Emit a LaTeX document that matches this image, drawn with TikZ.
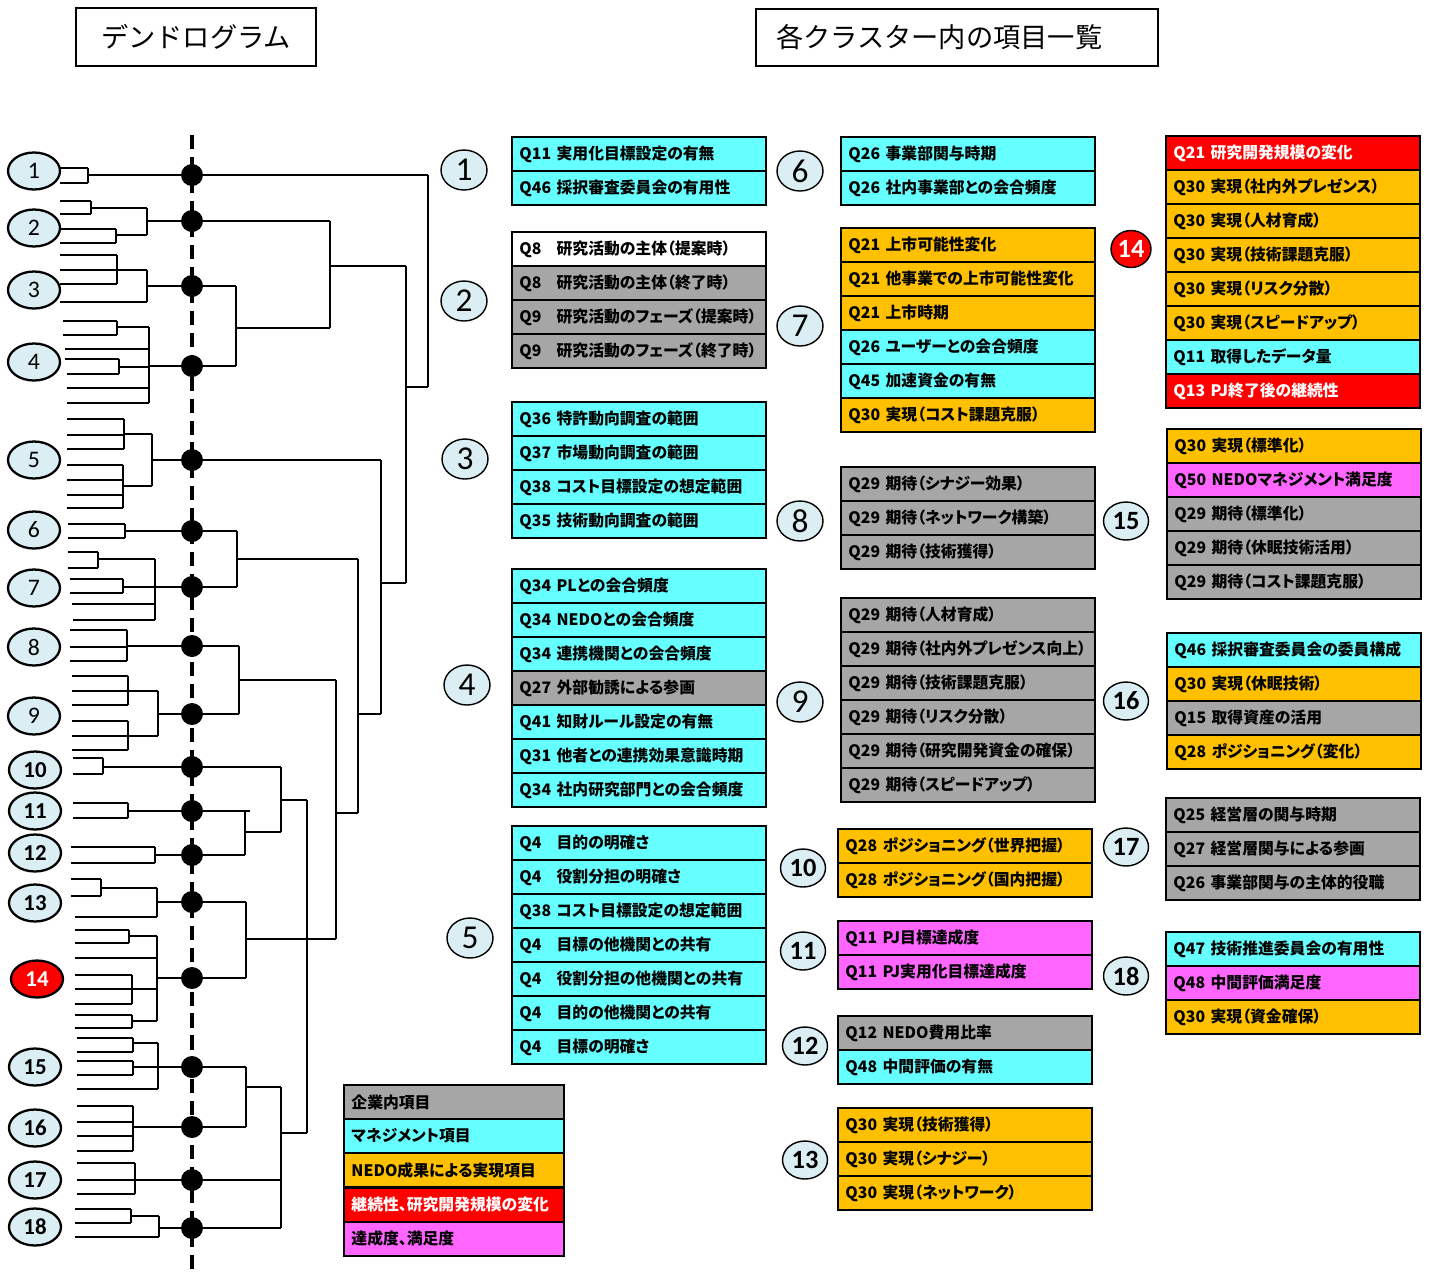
\documentclass[tikz,border=0pt]{standalone}
\usepackage{fontspec}
\setmainfont{Noto Sans CJK JP}[RawFeature=+palt]
\newfontfamily\titlefont{Noto Sans CJK JP}
\newfontfamily\numfont{Carlito}
\usetikzlibrary{positioning, shapes.geometric}
\definecolor{itemcyan}{RGB}{102,255,255}
\definecolor{itemgray}{RGB}{166,166,166}
\definecolor{itemorange}{RGB}{255,192,0}
\definecolor{itemred}{RGB}{255,0,0}
\definecolor{itemmagenta}{RGB}{255,102,255}
\definecolor{tagblue}{RGB}{219,238,244}

\tikzset{
  qrow/.style={draw, line width=1.1pt, anchor=north west, text width=4.78cm,
    inner xsep=0.15cm, inner ysep=0pt, minimum height=0.68cm, align=left,
    font=\bfseries\fontsize{9}{10}\selectfont},
  cy/.style={fill=itemcyan}, gy/.style={fill=itemgray}, og/.style={fill=itemorange},
  rd/.style={fill=itemred, text=white}, mg/.style={fill=itemmagenta}, wt/.style={fill=white},
  dendro/.style={line width=1pt},
  leaftag/.style={ellipse, draw, line width=1.3pt, fill=tagblue, inner sep=0pt,
    minimum width=1.04cm, minimum height=0.74cm, font=\numfont\fontsize{13.5}{13.5}\selectfont},
  grouptag/.style={ellipse, draw, line width=0.8pt, fill=tagblue, inner sep=0pt,
    minimum width=0.92cm, minimum height=0.8cm, font=\numfont\fontsize{19}{19}\selectfont},
  dot/.style={circle, fill=black, inner sep=0pt, minimum size=0.44cm},
  titlebox/.style={draw, line width=1.1pt, font=\titlefont\fontsize{15.5}{16}\selectfont},
}

% one column block of question rows
\newcommand\qgroup[4]{%
  \foreach \qc/\qn/\qt [count=\i] in {#4}
    \node[qrow, \qc] (#1-\i) at (#2,{#3+(\i-1)*34}) {\makebox[2.35em][l]{\qn}\qt};
}

\begin{document}
\begin{tikzpicture}[x=0.02cm, y=-0.02cm]
  \useasboundingbox (0,0) rectangle (1430,1279);

  % titles
  \node[titlebox, minimum width=4.8cm, minimum height=1.16cm] (title1) at (196,37) {デンドログラム};
  \node[titlebox, minimum height=1.14cm, text width=7.24cm, inner xsep=0.4cm, align=left]
    (title2) at (957,37.5) {各クラスター内の項目一覧};

  % cut line
  \draw[line width=2.8pt, dash pattern=on 8pt off 4.5pt] (192,135) -- (192,1275);

  % dendrogram: horizontal pieces
  \foreach \a/\y/\b in {60/168/88, 60/183/88, 88/175/428,
    60/201/91, 60/214/91, 60/229/116, 60/243/116, 91/208/147, 116/235/147, 147/221/330,
    60/255/117, 60/270/147, 60/284/117, 60/302/147, 147/286/236,
    63/321/117, 63/335/117, 65/349/149, 65/359/119, 67/374/119, 67/388/149, 67/403/149,
    117/327/149, 119/367/149, 149/366/236, 236/328/330, 330/266/406,
    67/419/124, 67/435/124, 67/449/124, 67/465/123, 67/480/123, 67/495/123, 67/508/123,
    124/434/152, 123/486/152, 152/460/381,
    68/524/125, 68/538/125, 125/531/237,
    68/552/98, 68/568/98, 70/579/123, 70/593/123, 72/604/155, 73/620/155,
    98/559/155, 123/587/237, 237/559/358,
    70/630/127, 70/647/127, 70/661/127, 127/646/239,
    72/676/128, 72/691/128, 72/705/128, 72/721/128, 72/736/128, 72/750/128,
    128/691/158, 128/736/158, 158/714/239, 239/680/336,
    73/758/103, 73/774/103, 103/767/281,
    73/803/128, 73/818/128, 128/811/250,
    71/847/155, 71/863/155, 155/855/245, 245/832/281, 281/800/307,
    71/879/101, 71/896/101, 75/917/157, 101/888/157, 157/902/246,
    75/930/129, 75/943/129, 75/958/157, 75/975/132, 75/989/132, 75/1004/132,
    75/1015/132, 75/1028/132, 129/936/157, 132/989/157, 132/1021/157, 157/978/246,
    246/939/336, 336/813/358, 358/714/381, 381/583/406, 406/387/428,
    77/1038/133, 77/1052/133, 77/1061/133, 77/1075/133, 77/1089/158,
    133/1043/158, 133/1067/246,
    77/1106/133, 77/1122/133, 77/1136/133, 77/1151/133, 133/1127/246, 246/1087/281,
    77/1163/135, 77/1180/281, 77/1194/135,
    75/1209/131, 75/1223/131, 75/1237/159, 131/1216/159, 159/1228/281, 281/1133/307}
    \draw[dendro] (\a,\y) -- (\b,\y);

  % dendrogram: vertical pieces
  \foreach \x/\a/\b in {88/168/183, 91/201/214, 116/229/243, 147/208/235,
    117/255/284, 147/270/302, 117/321/335, 119/359/374, 149/327/403,
    236/286/366, 330/221/328, 406/266/583, 428/175/387,
    124/419/449, 123/465/508, 152/434/486,
    125/524/538, 98/552/568, 123/579/593, 155/559/620, 237/531/587,
    127/630/661, 128/676/705, 128/721/750, 158/691/736, 239/646/714,
    103/758/774, 128/803/818, 155/847/863, 245/811/855, 281/767/832, 307/800/1133,
    101/879/896, 157/888/917, 129/930/943, 132/975/1004, 132/1015/1028, 157/936/1021,
    246/902/978, 336/680/939, 358/559/813, 381/460/714,
    133/1038/1052, 133/1061/1075, 158/1043/1089, 133/1106/1151, 246/1067/1127,
    135/1163/1194, 131/1209/1223, 159/1216/1237, 281/1087/1228}
    \draw[dendro] (\x,\a) -- (\x,\b);

  % cluster points on the cut
  \foreach \y [count=\i] in {175,221,286,366,460,531,587,646,714,767,811,855,902,978,1067,1127,1180,1228}
    \node[dot] (dot\i) at (192,\y) {};

  % leaf labels
  \foreach \y/\n in {171/1,228/2,290/3,362/4,460/5,530/6,588/7,647/8,716/9}
    \node[leaftag] (leaf\n) at (34,\y) {\n};
  \foreach \y/\n in {770/10,811/11,853/12,903/13,1067/15,1128/16,1180/17,1227/18}
    \node[leaftag, font=\numfont\bfseries\fontsize{13}{13}\selectfont] (leaf\n) at (35,\y) {\n};
  \node[leaftag, fill=itemred, text=white, font=\numfont\bfseries\fontsize{13}{13}\selectfont] (leaf14) at (37,979) {14};

  % item lists
  \qgroup{g1}{511}{136}{cy/Q11/実用化目標設定の有無,
    cy/Q46/採択審査委員会の有用性}
  \qgroup{g2}{511}{231}{wt/Q8/研究活動の主体（提案時）,
    gy/Q8/研究活動の主体（終了時）,
    gy/Q9/研究活動のフェーズ（提案時）,
    gy/Q9/研究活動のフェーズ（終了時）}
  \qgroup{g3}{511}{401}{cy/Q36/特許動向調査の範囲,
    cy/Q37/市場動向調査の範囲,
    cy/Q38/コスト目標設定の想定範囲,
    cy/Q35/技術動向調査の範囲}
  \qgroup{g4}{511}{568}{cy/Q34/PLとの会合頻度,
    cy/Q34/NEDOとの会合頻度,
    cy/Q34/連携機関との会合頻度,
    gy/Q27/外部勧誘による参画,
    cy/Q41/知財ルール設定の有無,
    cy/Q31/他者との連携効果意識時期,
    cy/Q34/社内研究部門との会合頻度}
  \qgroup{g5}{511}{825}{cy/Q4/目的の明確さ,
    cy/Q4/役割分担の明確さ,
    cy/Q38/コスト目標設定の想定範囲,
    cy/Q4/目標の他機関との共有,
    cy/Q4/役割分担の他機関との共有,
    cy/Q4/目的の他機関との共有,
    cy/Q4/目標の明確さ}
  \qgroup{g6}{840}{136}{cy/Q26/事業部関与時期,
    cy/Q26/社内事業部との会合頻度}
  \qgroup{g7}{840}{227}{og/Q21/上市可能性変化,
    og/Q21/他事業での上市可能性変化,
    og/Q21/上市時期,
    cy/Q26/ユーザーとの会合頻度,
    cy/Q45/加速資金の有無,
    og/Q30/実現（コスト課題克服）}
  \qgroup{g8}{840}{466}{gy/Q29/期待（シナジー効果）,
    gy/Q29/期待（ネットワーク構築）,
    gy/Q29/期待（技術獲得）}
  \qgroup{g9}{840}{597}{gy/Q29/期待（人材育成）,
    gy/Q29/期待（社内外プレゼンス向上）,
    gy/Q29/期待（技術課題克服）,
    gy/Q29/期待（リスク分散）,
    gy/Q29/期待（研究開発資金の確保）,
    gy/Q29/期待（スピードアップ）}
  \qgroup{g10}{837}{828}{og/Q28/ポジショニング（世界把握）,
    og/Q28/ポジショニング（国内把握）}
  \qgroup{g11}{837}{920}{mg/Q11/PJ目標達成度,
    mg/Q11/PJ実用化目標達成度}
  \qgroup{g12}{837}{1015}{gy/Q12/NEDO費用比率,
    cy/Q48/中間評価の有無}
  \qgroup{g13}{837}{1107}{og/Q30/実現（技術獲得）,
    og/Q30/実現（シナジー）,
    og/Q30/実現（ネットワーク）}
  \qgroup{g14}{1165}{135}{rd/Q21/研究開発規模の変化,
    og/Q30/実現（社内外プレゼンス）,
    og/Q30/実現（人材育成）,
    og/Q30/実現（技術課題克服）,
    og/Q30/実現（リスク分散）,
    og/Q30/実現（スピードアップ）,
    cy/Q11/取得したデータ量,
    rd/Q13/PJ終了後の継続性}
  \qgroup{g15}{1166}{428}{og/Q30/実現（標準化）,
    mg/Q50/NEDOマネジメント満足度,
    gy/Q29/期待（標準化）,
    gy/Q29/期待（休眠技術活用）,
    gy/Q29/期待（コスト課題克服）}
  \qgroup{g16}{1166}{632}{cy/Q46/採択審査委員会の委員構成,
    og/Q30/実現（休眠技術）,
    gy/Q15/取得資産の活用,
    og/Q28/ポジショニング（変化）}
  \qgroup{g17}{1165}{797}{gy/Q25/経営層の関与時期,
    gy/Q27/経営層関与による参画,
    gy/Q26/事業部関与の主体的役職}
  \qgroup{g18}{1165}{931}{cy/Q47/技術推進委員会の有用性,
    mg/Q48/中間評価満足度,
    og/Q30/実現（資金確保）}

  % cluster numbers beside the lists
  \foreach \x/\y/\n in {464/170/1, 464/301/2, 465/459/3, 467/685/4, 470/938/5,
    800/171/6, 800/326/7, 800/521/8, 800/702/9}
    \node[grouptag] (tag\n) at (\x,\y) {\n};
  \foreach \x/\y/\n in {803/868/10, 803/951/11, 805/1046/12, 805/1160/13,
    1126/521/15, 1126/701/16, 1126/847/17, 1126/976/18}
    \node[grouptag, minimum width=0.9cm, minimum height=0.76cm,
      font=\numfont\bfseries\fontsize{15}{15}\selectfont] (tag\n) at (\x,\y) {\n};
  \node[grouptag, fill=itemred, text=white, minimum width=0.8cm, minimum height=0.74cm,
    font=\numfont\bfseries\fontsize{15}{15}\selectfont] (tag14) at (1131,249) {14};

  % colour key
  \foreach \kc/\kt [count=\i] in {gy/企業内項目,
    cy/マネジメント項目,
    og/NEDO成果による実現項目,
    rd/継続性、研究開発規模の変化,
    mg/達成度、満足度}
    \node[qrow, text width=4.1cm, \kc] (key\i) at (343,{1084+(\i-1)*34.2}) {\kt};
\end{tikzpicture}
\end{document}
